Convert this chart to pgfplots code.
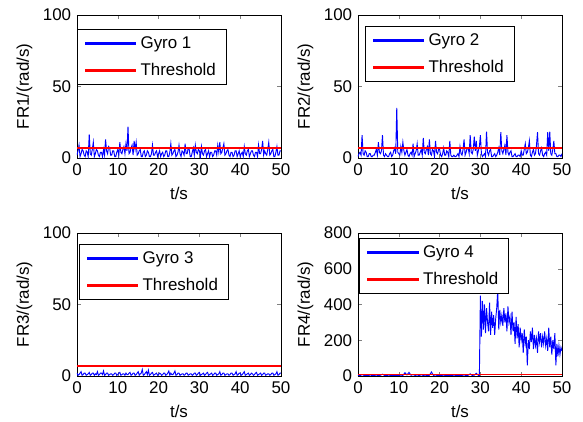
\documentclass[border=0pt]{standalone}
\usepackage{fontspec}
\setmainfont{Liberation Sans}
\usepackage{pgfplots}
\pgfplotsset{compat=1.18}
\usepgfplotslibrary{groupplots}
\definecolor{mblue}{RGB}{0,0,255}
\definecolor{mred}{RGB}{255,0,0}
\newcommand\chartfont{\fontsize{12.7}{15}\selectfont}
% legend sample as a thin filled bar
\newcommand\legbar[1]{\fill[#1] (0pt,-0.45pt) rectangle (38pt,0.45pt);}
\begin{document}
\chartfont
\begin{tikzpicture}
\begin{groupplot}[
  group style={group size=2 by 2, horizontal sep=57.75pt, vertical sep=56.25pt},
  scale only axis, width=153pt, height=107.25pt,
  xmin=0, xmax=50, xtick={0,10,...,50},
  ymin=0, ymax=100, ytick={0,50,100},
  tick align=inside, major tick length=3pt,
  xlabel={t/s},
  every axis y label/.style={at={(axis description cs:-0.257,0.5)}, rotate=90, anchor=center},
  every axis x label/.style={at={(axis description cs:0.5,-0.245)}, anchor=center},
  /pgf/number format/assume math mode=true,
  tick label style={font=\chartfont},
  label style={font=\chartfont},
  legend style={draw=black, fill=white, anchor=north west, font=\chartfont,
    cells={anchor=west}, inner xsep=5.5pt, inner ysep=3.2pt, row sep=5.3pt,
    column sep=1.2pt, nodes={inner sep=2pt}},
  gyro/.style={draw=mblue, line width=0.7pt, legend image code/.code={\legbar{mblue}}},
  thr/.style={draw=mred, line width=0.8pt, legend image code/.code={\legbar{mred}}},
]
\nextgroupplot[ylabel={FR1/(rad/s)}, legend style={at={(0,0.902)}}]
\addplot[gyro] coordinates {(0,2)(0.25,5)(0.5,9)(0.75,1)(1,3)(1.25,6)(1.5,5)(1.75,2)(2,1)(2.25,5)(2.5,4)(2.75,1)(3,16.5)(3.25,3)(3.5,2)(3.75,6)(4,11)(4.25,1)(4.5,3)(4.75,6)(5,5)(5.25,2)(5.5,1)(5.75,4)(6,4)(6.25,1)(6.5,6)(6.75,2)(7,13)(7.25,5)(7.5,3)(7.75,8)(8,7)(8.25,2)(8.5,2)(8.75,5)(9,5)(9.25,1)(9.5,1)(9.75,4)(10,6)(10.25,2)(10.5,11)(10.75,4)(11,3)(11.25,6)(11.5,8)(11.75,3)(12,10)(12.25,5)(12.5,22)(12.75,3)(13,4)(13.25,7)(13.5,9)(13.75,2)(14,12)(14.25,6)(14.5,11)(14.75,2)(15,3)(15.25,5)(15.5,6)(15.75,1)(16,1)(16.25,4)(16.5,5)(16.75,1)(17,2)(17.25,5)(17.5,4)(17.75,1)(18,1)(18.25,3)(18.5,9)(18.75,2)(19,2)(19.25,4)(19.5,5)(19.75,1)(20,3)(20.25,5)(20.5,1)(20.75,3)(21,4)(21.25,1)(21.5,2)(21.75,5)(22,5)(22.25,1)(22.5,1)(22.75,4)(23,10)(23.25,2)(23.5,3)(23.75,5)(24,6)(24.25,1)(24.5,2)(24.75,4)(25,9)(25.25,3)(25.5,1)(25.75,5)(26,4)(26.25,2)(26.5,10)(26.75,3)(27,3)(27.25,7)(27.5,6)(27.75,1)(28,1)(28.25,4)(28.5,7)(28.75,2)(29,9)(29.25,4)(29.5,3)(29.75,6)(30,5)(30.25,1)(30.5,8)(30.75,3)(31,2)(31.25,5)(31.5,6)(31.75,1)(32,3)(32.25,5)(32.5,1)(32.75,4)(33,4)(33.25,1)(33.5,2)(33.75,5)(34,5)(34.25,2)(34.5,9)(34.75,4)(35,11)(35.25,3)(35.5,4)(35.75,7)(36,10)(36.25,2)(36.5,3)(36.75,5)(37,6)(37.25,2)(37.5,1)(37.75,4)(38,4)(38.25,1)(38.5,2)(38.75,5)(39,5)(39.25,1)(39.5,3)(39.75,5)(40,1)(40.25,3)(40.5,4)(40.75,1)(41,8)(41.25,3)(41.5,2)(41.75,5)(42,6)(42.25,1)(42.5,3)(42.75,5)(43,5)(43.25,2)(43.5,1)(43.75,4)(44,4)(44.25,1)(44.5,9)(44.75,3)(45,3)(45.25,6)(45.5,12)(45.75,2)(46,5)(46.25,3)(46.5,2)(46.75,6)(47,11)(47.25,2)(47.5,3)(47.75,5)(48,6)(48.25,1)(48.5,1)(48.75,4)(49,8)(49.25,2)(49.5,2)(49.75,5)(50,5)};
\addlegendentry{Gyro 1}
\addplot[thr] coordinates {(0,7)(50,7)};
\addlegendentry{Threshold}

\nextgroupplot[ylabel={FR2/(rad/s)}, legend style={at={(0.034,0.923)}}]
\addplot[gyro] coordinates {(0,1)(0.25,3)(0.5,4)(0.75,2)(1,16)(1.25,3)(1.5,2)(1.75,5)(2,4)(2.25,1)(2.5,1)(2.75,3)(3,3)(3.25,1)(3.5,1)(3.75,2)(4,2)(4.25,4)(4.5,6)(4.75,2)(5,11)(5.25,4)(5.5,3)(5.75,5)(6,16)(6.25,2)(6.5,1)(6.75,3)(7,2)(7.25,1)(7.5,1)(7.75,3)(8,4)(8.25,1)(8.5,2)(8.75,5)(9,7)(9.25,3)(9.5,35)(9.75,4)(10,3)(10.25,2)(10.5,8)(10.75,4)(11,11)(11.25,5)(11.5,2)(11.75,4)(12,6)(12.25,2)(12.5,1)(12.75,3)(13,4)(13.25,2)(13.5,10)(13.75,1)(14,3)(14.25,5)(14.5,10)(14.75,2)(15,2)(15.25,4)(15.5,6)(15.75,2)(16,14)(16.25,4)(16.5,3)(16.75,6)(17,8)(17.25,2)(17.5,13)(17.75,3)(18,2)(18.25,6)(18.5,5)(18.75,1)(19,12)(19.25,4)(19.5,3)(19.75,6)(20,6)(20.25,2)(20.5,1)(20.75,3)(21,7)(21.25,2)(21.5,2)(21.75,5)(22,4)(22.25,1)(22.5,12)(22.75,2)(23,1)(23.25,1)(23.5,2)(23.75,1)(24,1)(24.25,2)(24.5,3)(24.75,1)(25,8)(25.25,3)(25.5,2)(25.75,6)(26,13)(26.25,2)(26.5,4)(26.75,7)(27,7)(27.25,3)(27.5,16)(27.75,4)(28,3)(28.25,6)(28.5,15)(28.75,5)(29,12)(29.25,2)(29.5,5)(29.75,8)(30,16)(30.25,3)(30.5,1)(30.75,2)(31,3)(31.25,1)(31.5,18.5)(31.75,4)(32,2)(32.25,5)(32.5,6)(32.75,1)(33,1)(33.25,2)(33.5,3)(33.75,1)(34,2)(34.25,4)(34.5,7)(34.75,2)(35,18)(35.25,5)(35.5,3)(35.75,6)(36,9)(36.25,2)(36.5,16)(36.75,4)(37,2)(37.25,4)(37.5,5)(37.75,1)(38,1)(38.25,2)(38.5,3)(38.75,1)(39,1)(39.25,2)(39.5,2)(39.75,1)(40,5)(40.25,2)(40.5,2)(40.75,6)(41,10)(41.25,3)(41.5,4)(41.75,7)(42,12)(42.25,2)(42.5,1)(42.75,4)(43,6)(43.25,2)(43.5,3)(43.75,9)(44,18)(44.25,3)(44.5,2)(44.75,5)(45,7)(45.25,2)(45.5,1)(45.75,3)(46,4)(46.25,2)(46.5,18)(46.75,5)(47,18.5)(47.25,3)(47.5,2)(47.75,6)(48,12)(48.25,3)(48.5,3)(48.75,1)(49,1)(49.25,2)(49.5,2)(49.75,1)(50,3)};
\addlegendentry{Gyro 2}
\addplot[thr] coordinates {(0,7)(50,7)};
\addlegendentry{Threshold}

\nextgroupplot[ylabel={FR3/(rad/s)}, legend style={at={(0.01,0.923)}}]
\addplot[gyro] coordinates {(0,2)(0.25,0.5)(0.5,1)(0.75,2)(1,3)(1.25,0.5)(1.5,1)(1.75,2)(2,2)(2.25,0.5)(2.5,1)(2.75,1.5)(3,2.5)(3.25,0.5)(3.5,1)(3.75,2)(4,2)(4.25,0.5)(4.5,1.5)(4.75,1)(5,3)(5.25,0.5)(5.5,1)(5.75,2)(6,2)(6.25,1)(6.5,3.5)(6.75,0.5)(7,1)(7.25,2)(7.5,2)(7.75,0.5)(8,1)(8.25,1.5)(8.5,1.5)(8.75,0.5)(9,1)(9.25,2)(9.5,2)(9.75,0.5)(10,1)(10.25,2)(10.5,2.5)(10.75,0.5)(11,1)(11.25,1.5)(11.5,1.5)(11.75,0.5)(12,2)(12.25,1)(12.5,1)(12.75,2)(13,2.5)(13.25,0.5)(13.5,1)(13.75,2)(14,2)(14.25,0.5)(14.5,1)(14.75,2)(15,3)(15.25,0.5)(15.5,1.5)(15.75,2)(16,4.5)(16.25,0.5)(16.5,1)(16.75,2)(17,3)(17.25,1)(17.5,4)(17.75,0.5)(18,1)(18.25,2)(18.5,2.5)(18.75,0.5)(19,1)(19.25,1.5)(19.5,2)(19.75,0.5)(20,1)(20.25,2)(20.5,1.5)(20.75,0.5)(21,1)(21.25,2)(21.5,2)(21.75,0.5)(22,1)(22.25,2)(22.5,3.5)(22.75,0.5)(23,2)(23.25,1)(23.5,1)(23.75,2)(24,3.5)(24.25,0.5)(24.5,1)(24.75,2)(25,2)(25.25,0.5)(25.5,1)(25.75,1.5)(26,1.5)(26.25,0.5)(26.5,1)(26.75,2)(27,2)(27.25,0.5)(27.5,1)(27.75,1.5)(28,1.5)(28.25,0.5)(28.5,1)(28.75,2)(29,2)(29.25,0.5)(29.5,1)(29.75,2)(30,2.5)(30.25,0.5)(30.5,1)(30.75,1.5)(31,2)(31.25,0.5)(31.5,1)(31.75,2)(32,2.5)(32.25,0.5)(32.5,1)(32.75,1.5)(33,2)(33.25,0.5)(33.5,1)(33.75,2)(34,2)(34.25,0.5)(34.5,1)(34.75,1.5)(35,3)(35.25,0.5)(35.5,1)(35.75,2)(36,2)(36.25,0.5)(36.5,1)(36.75,1.5)(37,1.5)(37.25,0.5)(37.5,1)(37.75,2)(38,2)(38.25,0.5)(38.5,1)(38.75,1.5)(39,3)(39.25,0.5)(39.5,1)(39.75,2)(40,2)(40.25,0.5)(40.5,1)(40.75,2)(41,3)(41.25,0.5)(41.5,1)(41.75,1.5)(42,2)(42.25,0.5)(42.5,1)(42.75,2)(43,1.5)(43.25,0.5)(43.5,1)(43.75,2)(44,2.5)(44.25,0.5)(44.5,1)(44.75,1.5)(45,2)(45.25,0.5)(45.5,1)(45.75,2)(46,2)(46.25,0.5)(46.5,1)(46.75,1.5)(47,1.5)(47.25,0.5)(47.5,1)(47.75,2)(48,2)(48.25,0.5)(48.5,1)(48.75,1.5)(49,3)(49.25,0.5)(49.5,1)(49.75,2)(50,2)};
\addlegendentry{Gyro 3}
\addplot[thr] coordinates {(0,7)(50,7)};
\addlegendentry{Threshold}

\nextgroupplot[ylabel={FR4/(rad/s)}, ymax=800, ytick={0,200,...,800}, legend style={at={(0.007,0.965)}}]
\addplot[gyro] coordinates {(0,5)(0.5,2)(1,8)(1.5,3)(2,4)(2.5,2)(3,6)(3.5,2)(4,3)(4.5,5)(5,2)(5.5,4)(6,10)(6.5,3)(7,2)(7.5,5)(8,3)(8.5,2)(9,4)(9.5,3)(10,2)(10.5,5)(11,3)(11.5,18)(12,6)(12.5,20)(13,4)(13.5,8)(14,3)(14.5,6)(15,2)(15.5,7)(16,3)(16.5,5)(17,2)(17.5,4)(18,22)(18.5,3)(19,6)(19.5,2)(20,4)(20.5,3)(21,5)(21.5,2)(22,3)(22.5,4)(23,2)(23.5,5)(24,3)(24.5,2)(25,4)(25.5,3)(26,6)(26.5,2)(27,4)(27.5,12)(28,3)(28.5,5)(29,15)(29.5,3)(29.75,0)
(30,450)(30.25,220)(30.5,420)(30.75,260)(31,400)(31.25,240)(31.5,380)(31.75,300)(32,250)(32.25,410)(32.5,230)(32.75,360)(33,270)(33.25,340)(33.5,230)(33.75,320)(34,380)(34.25,480)(34.5,260)(34.75,370)(35,300)(35.25,340)(35.5,280)(35.75,380)(36,300)(36.25,350)(36.5,250)(36.75,390)(37,300)(37.25,330)(37.5,230)(37.75,360)(38,250)(38.25,300)(38.5,180)(38.75,330)(39,210)(39.25,290)(39.5,160)(39.75,270)(40,200)(40.25,240)(40.5,130)(40.75,260)(41,180)(41.25,220)(41.5,60)(41.75,200)(42,150)(42.25,250)(42.5,190)(42.75,270)(43,150)(43.25,230)(43.5,170)(43.75,210)(44,130)(44.25,250)(44.5,190)(44.75,240)(45,160)(45.25,220)(45.5,180)(45.75,250)(46,170)(46.25,210)(46.5,140)(46.75,270)(47,160)(47.25,220)(47.5,120)(47.75,200)(48,150)(48.25,240)(48.5,60)(48.75,180)(49,110)(49.25,170)(49.5,120)(49.75,160)(50,140)};
\addlegendentry{Gyro 4}
\addplot[thr] coordinates {(0,7)(50,7)};
\addlegendentry{Threshold}
\end{groupplot}
\pgfresetboundingbox
\path[use as bounding box] ([xshift=-57.75pt,yshift=11.25pt]group c1r1.north west) rectangle ++(437.25pt,-316.5pt);
\end{tikzpicture}
\end{document}
